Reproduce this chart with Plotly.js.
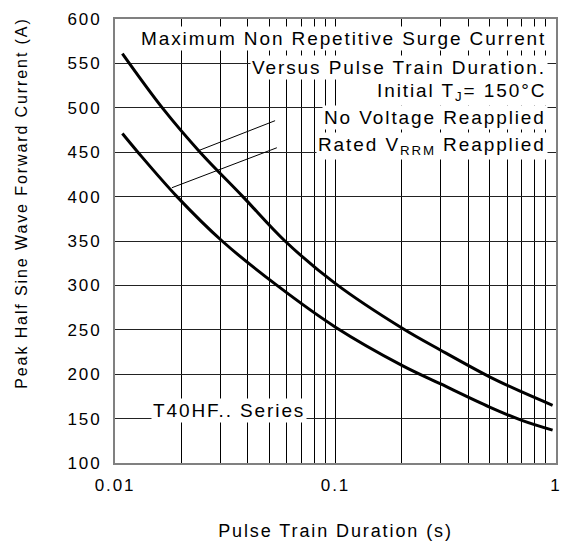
<!DOCTYPE html>
<html>
<head>
<meta charset="utf-8">
<script src="https://cdn.plot.ly/plotly-3.0.1.min.js"></script>
<style>
html,body{margin:0;padding:0;background:#fff;}
#chart{width:571px;height:543px;}
text{letter-spacing:1.9px;}
</style>
</head>
<body>
<div id="chart"></div>
<script>
// Pulse train duration (s) vs peak current (A)
var durNoVoltage = [0.0108, 0.0165, 0.0243, 0.038, 0.059, 0.1, 0.2, 0.3, 0.5, 0.7, 0.965];
var currNoVoltage = [561, 499, 450, 400, 350, 302, 252, 227, 197, 180, 165];
var durRated = [0.0108, 0.0127, 0.0191, 0.0306, 0.0543, 0.1, 0.2, 0.3, 0.5, 0.7, 0.965];
var currRated = [471, 450, 400, 350, 300, 253, 210, 189, 163, 148, 137];

var xTickVals = [0.01, 0.1, 1];
var xTickText = ['0.01', '0.1', '1'];
var xMinorVals = [0.02,0.03,0.04,0.05,0.06,0.07,0.08,0.09,0.2,0.3,0.4,0.5,0.6,0.7,0.8,0.9];
var yTickVals = [100,150,200,250,300,350,400,450,500,550,600];

var F = 'Liberation Sans, Arial, sans-serif';
var data = [
  {x: durNoVoltage, y: currNoVoltage, mode: 'lines', line: {color: '#000', width: 3, shape: 'spline'}, name: 'No Voltage Reapplied', showlegend: false},
  {x: durRated, y: currRated, mode: 'lines', line: {color: '#000', width: 3, shape: 'spline'}, name: 'Rated VRRM Reapplied', showlegend: false}
];

function ann(text, x, y, xanchor) {
  return {text: text, xref: 'paper', yref: 'paper', x: x, y: y, xanchor: xanchor, yanchor: 'middle',
    showarrow: false, bgcolor: '#fff', borderpad: 1, font: {family: F, size: 19, color: '#000'}};
}

var layout = {
  width: 571, height: 543,
  margin: {l: 115, r: 15, t: 19, b: 80},
  paper_bgcolor: '#fff', plot_bgcolor: '#fff',
  font: {family: F, size: 18, color: '#000'},
  xaxis: {
    type: 'log', range: [-2, 0], tickvals: xTickVals, ticktext: xTickText,
    showgrid: true, gridcolor: '#000', gridwidth: 1, ticks: '', zeroline: false,
    minor: {tickvals: xMinorVals, showgrid: true, gridcolor: '#000', gridwidth: 1, ticks: ''},
    showline: true, linecolor: '#808080', linewidth: 2, mirror: true,
    ticklabelstandoff: 6, tickfont: {family: F, size: 17, color: '#000'},
    title: {text: 'Pulse Train Duration (s)', font: {family: F, size: 18, color: '#000'}, standoff: 30}
  },
  yaxis: {
    range: [100, 600], tickvals: yTickVals,
    showgrid: true, gridcolor: '#222', gridwidth: 1, ticks: '', zeroline: false,
    showline: true, linecolor: '#808080', linewidth: 2, mirror: true,
    ticklabelstandoff: 8, tickfont: {family: F, size: 17, color: '#000'}
  },
  shapes: [
    {type: 'line', xref: 'paper', yref: 'paper', x0: 0.363, y0: 0.771, x1: 0.188, y1: 0.703, line: {color: '#000', width: 1}},
    {type: 'line', xref: 'paper', yref: 'paper', x0: 0.367, y0: 0.710, x1: 0.129, y1: 0.620, line: {color: '#000', width: 1}}
  ],
  annotations: [
    ann('Maximum Non Repetitive Surge Current', 0.982, 0.957, 'right'),
    ann('Versus Pulse Train Duration.', 0.982, 0.890, 'right'),
    ann('Initial T<sub>J</sub>= 150°C', 0.982, 0.835, 'right'),
    ann('No Voltage Reapplied', 0.982, 0.778, 'right'),
    ann('Rated V<sub>RRM</sub> Reapplied', 0.982, 0.714, 'right'),
    ann('T40HF.. Series', 0.082, 0.119, 'left'),
    {text: 'Peak Half Sine Wave Forward Current (A)', xref: 'paper', yref: 'paper', x: -0.212, y: 0.585,
     xanchor: 'center', yanchor: 'middle', textangle: -90, showarrow: false,
     font: {family: F, size: 16, color: '#000'}}
  ]
};

Plotly.newPlot('chart', data, layout, {displayModeBar: false, staticPlot: true});
</script>
</body>
</html>
